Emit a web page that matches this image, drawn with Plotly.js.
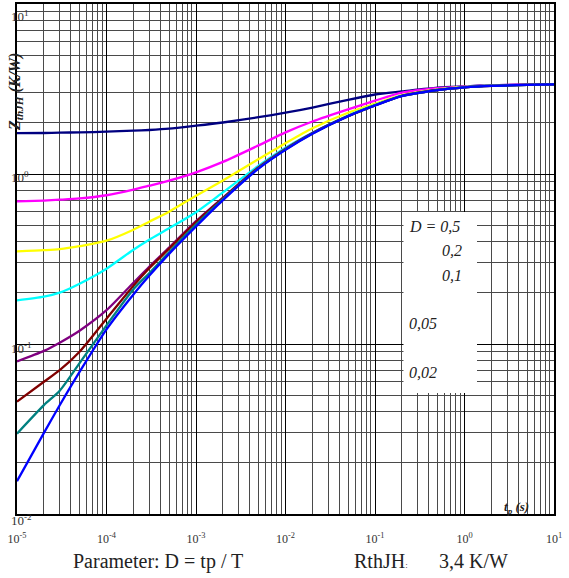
<!DOCTYPE html>
<html>
<head>
<meta charset="utf-8">
<script src="https://cdn.plot.ly/plotly-3.0.1.min.js"></script>
<style>html,body{margin:0;padding:0;background:#fff;}#chart{width:569px;height:578px;}</style>
</head>
<body>
<div id="chart"></div>
<script>
// pulse duration tp (s)
const t = [1e-5, 2e-5, 3e-5, 5e-5, 1e-4, 2e-4, 3e-4, 5e-4, 1e-3, 2e-3, 5e-3, 1e-2, 2e-2, 5e-2, 0.1, 0.2, 0.5, 1, 2, 10];
// Zth (K/W) per duty cycle D
const zD05   = [1.738, 1.743, 1.750, 1.758, 1.774, 1.798, 1.815, 1.847, 1.923, 2.009, 2.158, 2.294, 2.460, 2.733, 2.935, 3.057, 3.218, 3.275, 3.329, 3.375];
const zD02   = [0.690, 0.698, 0.706, 0.718, 0.750, 0.809, 0.853, 0.914, 1.023, 1.178, 1.473, 1.757, 2.036, 2.400, 2.699, 3.008, 3.196, 3.270, 3.325, 3.375];
const zD01   = [0.3509, 0.3563, 0.3611, 0.3761, 0.4052, 0.4703, 0.5241, 0.6001, 0.745, 0.917, 1.224, 1.518, 1.858, 2.294, 2.591, 2.908, 3.141, 3.249, 3.311, 3.370];
const zD005  = [0.1804, 0.1897, 0.2003, 0.2263, 0.2773, 0.3588, 0.4108, 0.4794, 0.5960, 0.7795, 1.119, 1.428, 1.750, 2.209, 2.549, 2.888, 3.132, 3.245, 3.307, 3.370];
const zD002  = [0.0790, 0.0911, 0.1018, 0.1197, 0.1580, 0.2294, 0.2849, 0.3686, 0.5277, 0.7254, 1.096, 1.408, 1.743, 2.190, 2.535, 2.880, 3.120, 3.235, 3.300, 3.368];
const zD001  = [0.0458, 0.0600, 0.0702, 0.0901, 0.1409, 0.2203, 0.2792, 0.3636, 0.5206, 0.7205, 1.089, 1.401, 1.736, 2.190, 2.535, 2.880, 3.120, 3.235, 3.300, 3.368];
const zD0005 = [0.0297, 0.0437, 0.0531, 0.0771, 0.1287, 0.2101, 0.2609, 0.3467, 0.5033, 0.7109, 1.082, 1.394, 1.731, 2.188, 2.532, 2.876, 3.118, 3.233, 3.299, 3.367];
const zSingle= [0.0156, 0.0300, 0.0436, 0.0685, 0.1219, 0.1957, 0.2519, 0.3388, 0.4912, 0.7023, 1.0745, 1.386, 1.724, 2.185, 2.528, 2.872, 3.115, 3.231, 3.298, 3.366];

const seriesNames = ['D = 0,5', 'D = 0,2', 'D = 0,1', 'D = 0,05', 'D = 0,02', 'D = 0,01', 'D = 0,005', 'single pulse'];
const seriesData = [zD05, zD02, zD01, zD005, zD002, zD001, zD0005, zSingle];
const seriesColors = ['#000080', '#ff00ff', '#ffff00', '#00ffff', '#800080', '#800000', '#008080', '#0000ff'];

const xTickVals = [1e-5, 1e-4, 1e-3, 1e-2, 1e-1, 1, 10];
const xTickText = ['10<sup>-5</sup>', '10<sup>-4</sup>', '10<sup>-3</sup>', '10<sup>-2</sup>', '10<sup>-1</sup>', '10<sup>0</sup>', '10<sup>1</sup>'];
const yTickVals = [0.01, 0.1, 1, 10];
const yTickText = ['10<sup>-2</sup>', '10<sup>-1</sup>', '10<sup>0</sup>', '10<sup>1</sup>'];

const legendLabels = ['D = 0,5', '0,2', '0,1', '0,05', '0,02'];

// minor grid positions (2..9 within each decade)
function minorGrid(lo, hi) {
  const v = [];
  for (let e = lo; e < hi; e++) for (let m = 2; m <= 9; m++) v.push(m * Math.pow(10, e));
  return v;
}

const traces = seriesData.map((z, i) => ({
  x: t, y: z, type: 'scatter', mode: 'lines', name: seriesNames[i],
  line: {color: seriesColors[i], width: 2.3, shape: 'spline', smoothing: 0.7},
  hoverinfo: 'skip'
}));

const serif = 'Liberation Serif, Times New Roman, serif';
const L = 17, R = 15, T = 4, B = 64, W = 569, H = 578;
const pw = W - L - R, ph = H - T - B;
const px = x => (x - L) / pw;
const py = y => (H - B - y) / ph;

const legendPos = [
  {x: 407, y: 226, anchor: 'left'},
  {x: 464, y: 251, anchor: 'right'},
  {x: 464, y: 275, anchor: 'right'},
  {x: 407, y: 323, anchor: 'left'},
  {x: 407, y: 372, anchor: 'left'}
];

const annotations = legendLabels.map((s, i) => ({
  text: '<i>' + s + '</i>', xref: 'paper', yref: 'paper',
  x: px(legendPos[i].x), y: py(legendPos[i].y), xanchor: legendPos[i].anchor, yanchor: 'middle',
  showarrow: false, font: {family: serif, size: 16, color: '#222'}
}));

// y tick labels, overlapping the left axis like the reference
const yLabelShift = [-6, -4, -3, -12];
yTickVals.forEach((v, i) => {
  annotations.push({
    text: yTickText[i], xref: 'paper', yref: 'y', x: px(9), y: Math.log10(v),
    xanchor: 'left', yanchor: 'middle', yshift: yLabelShift[i],
    showarrow: false, font: {family: serif, size: 13, color: '#333'}
  });
});

annotations.push({
  text: '<b><i>Z<sub>thJH</sub> (K/W)</i></b>', xref: 'paper', yref: 'paper',
  x: px(15), y: py(92), xanchor: 'center', yanchor: 'middle', textangle: -90,
  showarrow: false, font: {family: serif, size: 16, color: '#222'}
});
annotations.push({
  text: '<b><i>t<sub>p</sub> (s)</i></b>', xref: 'paper', yref: 'paper',
  x: px(531), y: py(507), xanchor: 'right', yanchor: 'middle',
  showarrow: false, font: {family: serif, size: 13, color: '#222'}
});
annotations.push({
  text: 'Parameter: D = tp / T', xref: 'paper', yref: 'paper',
  x: px(158), y: py(561), xanchor: 'center', yanchor: 'middle',
  showarrow: false, font: {family: serif, size: 20, color: '#222'}
});
annotations.push({
  text: 'RthJH<span style="font-size:9px">:</span>', xref: 'paper', yref: 'paper',
  x: px(352), y: py(561), xanchor: 'left', yanchor: 'middle',
  showarrow: false, font: {family: serif, size: 20, color: '#222'}
});
annotations.push({
  text: '3,4 K/W', xref: 'paper', yref: 'paper',
  x: px(437), y: py(561), xanchor: 'left', yanchor: 'middle',
  showarrow: false, font: {family: serif, size: 20, color: '#222'}
});

const layout = {
  width: W, height: H,
  margin: {l: L, r: R, t: T, b: B, pad: 0},
  paper_bgcolor: '#fff', plot_bgcolor: '#fff',
  showlegend: false,
  font: {family: serif, color: '#333'},
  xaxis: {
    type: 'log', range: [-5, 1],
    tickmode: 'array', tickvals: xTickVals, ticktext: xTickText, ticks: '',
    tickfont: {family: serif, size: 12, color: '#333'},
    ticklabelstandoff: 13,
    showgrid: true, gridcolor: '#000', gridwidth: 1,
    minor: {tickmode: 'array', tickvals: minorGrid(-5, 1), showgrid: true, gridcolor: '#4a4a4a', gridwidth: 1, ticks: ''},
    showline: true, linecolor: '#000', linewidth: 2, mirror: true, zeroline: false
  },
  yaxis: {
    type: 'log', range: [-2, 1],
    tickmode: 'array', tickvals: yTickVals, ticktext: yTickText, ticks: '',
    showticklabels: false,
    showgrid: true, gridcolor: '#000', gridwidth: 1,
    minor: {tickmode: 'array', tickvals: minorGrid(-2, 1), showgrid: true, gridcolor: '#4a4a4a', gridwidth: 1, ticks: ''},
    showline: true, linecolor: '#000', linewidth: 2, mirror: true, zeroline: false
  },
  shapes: [{
    type: 'rect', xref: 'paper', yref: 'paper', layer: 'above',
    x0: px(403.5), x1: px(477), y0: py(393), y1: py(212),
    fillcolor: '#fff', line: {width: 0}
  }],
  annotations: annotations
};

Plotly.newPlot('chart', traces, layout, {staticPlot: true, displayModeBar: false});
</script>
</body>
</html>
